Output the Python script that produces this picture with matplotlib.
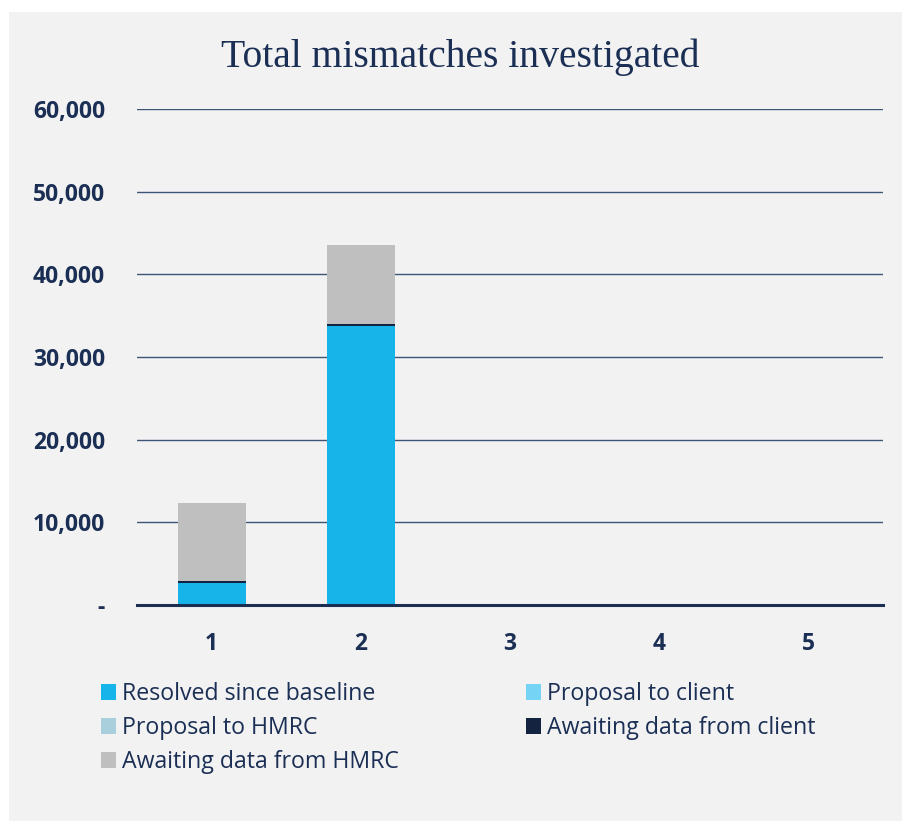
import matplotlib
matplotlib.use("Agg")
import matplotlib.pyplot as plt
from matplotlib.patches import Patch, Rectangle
import numpy as np

categories = ["1", "2", "3", "4", "5"]
resolved = [2650, 33700, 0, 0, 0]
proposal_client = [0, 0, 0, 0, 0]
proposal_hmrc = [0, 0, 0, 0, 0]
awaiting_client = [250, 300, 0, 0, 0]
awaiting_hmrc = [9400, 9550, 0, 0, 0]
yticks = [0, 10000, 20000, 30000, 40000, 50000, 60000]
ytick_labels = ["-", "10,000", "20,000", "30,000", "40,000", "50,000", "60,000"]

series = [
    ("Resolved since baseline", resolved, "#16B4E9"),
    ("Proposal to client", proposal_client, "#75D4F5"),
    ("Proposal to HMRC", proposal_hmrc, "#A9CEDC"),
    ("Awaiting data from client", awaiting_client, "#14233F"),
    ("Awaiting data from HMRC", awaiting_hmrc, "#BFBFBF"),
]

navy = "#1B2F55"
W, H = 902, 821
fig = plt.figure(figsize=(W / 100, H / 100), dpi=100)
fig.patch.set_facecolor("white")
fig.add_artist(Rectangle((9 / W, 0), 1 - 9 / W, 1 - 12 / H, transform=fig.transFigure,
                         facecolor="#F2F2F2", edgecolor="none", zorder=0))

ax = fig.add_axes([137 / W, (H - 605) / H, 746 / W, 496 / H])
ax.set_facecolor("none")
x = np.arange(len(categories))
bottom = np.zeros(len(categories))
handles = {}
for name, vals, col in series:
    v = np.array(vals, dtype=float)
    ax.bar(x, v, width=0.455, bottom=bottom, color=col, edgecolor="none", zorder=3)
    bottom += v
    handles[name] = Patch(facecolor=col, edgecolor="none")

ax.set_xlim(-0.5, len(categories) - 0.5)
ax.set_ylim(0, 60000)
ax.set_yticks(yticks)
ax.set_yticklabels(ytick_labels)
ax.set_xticks(x)
ax.set_xticklabels(categories)
for t in ax.get_yticklabels() + ax.get_xticklabels():
    t.set_fontfamily("Open Sans")
    t.set_fontweight("bold")
    t.set_fontsize(16.5)
    t.set_color(navy)
ax.tick_params(axis="y", length=0, pad=23)
ax.tick_params(axis="x", length=0, pad=19.5)
ax.grid(axis="y", color="#3E5478", linewidth=1.0, zorder=1)
for s in ["top", "right", "left"]:
    ax.spines[s].set_visible(False)
ax.spines["bottom"].set_color(navy)
ax.spines["bottom"].set_linewidth(2.2)
ax.spines["bottom"].set_zorder(4)

fig.text(460 / W, 1 - 57 / H, "Total mismatches investigated", ha="center", va="center",
         fontsize=28.5, family="Liberation Serif", color=navy)

order = ["Resolved since baseline", "Proposal to HMRC", "Awaiting data from HMRC",
         "Proposal to client", "Awaiting data from client"]
leg = fig.legend([handles[n] for n in order], order, ncol=2, loc="upper left",
                 bbox_to_anchor=(92 / W, 1 - 673 / H), frameon=False,
                 prop={"family": "Open Sans", "size": 16.7},
                 handlelength=0.65, handleheight=0.65, handletextpad=0.26,
                 columnspacing=5.46, labelspacing=0.43, borderaxespad=0)
for t in leg.get_texts():
    t.set_color(navy)

fig.savefig("out.png", dpi=100, facecolor=fig.get_facecolor())
